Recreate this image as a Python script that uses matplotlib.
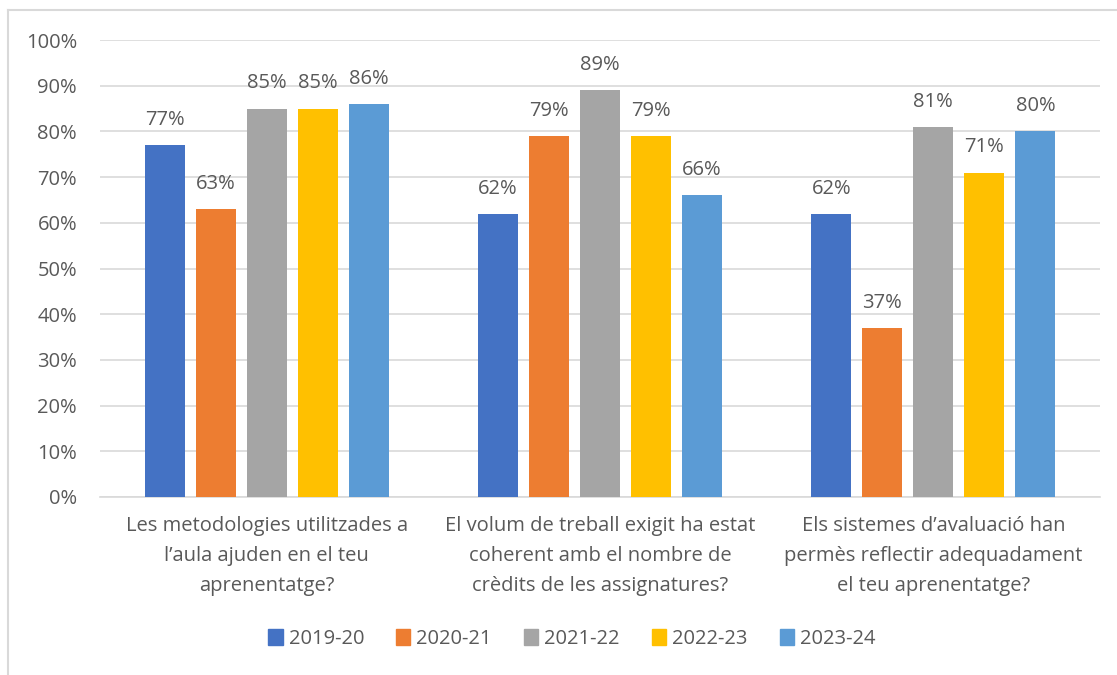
import matplotlib
matplotlib.use("Agg")
import matplotlib.pyplot as plt
import numpy as np
from matplotlib.lines import Line2D

plt.rcParams['font.family'] = ['Open Sans', 'DejaVu Sans']

categories = [
    "Les metodologies utilitzades a\nl\u2019aula ajuden en el teu\naprenentatge?",
    "El volum de treball exigit ha estat\ncoherent amb el nombre de\ncr\u00e8dits de les assignatures?",
    "Els sistemes d\u2019avaluaci\u00f3 han\nperm\u00e8s reflectir adequadament\nel teu aprenentatge?",
]
series_names = ["2019-20", "2020-21", "2021-22", "2022-23", "2023-24"]
v2019_20 = [77, 62, 62]
v2020_21 = [63, 79, 37]
v2021_22 = [85, 89, 81]
v2022_23 = [85, 79, 71]
v2023_24 = [86, 66, 80]
series_values = [v2019_20, v2020_21, v2021_22, v2022_23, v2023_24]
colors = ["#4472C4", "#ED7D31", "#A5A5A5", "#FFC000", "#5B9BD5"]
yticks = [0, 10, 20, 30, 40, 50, 60, 70, 80, 90, 100]

W, H = 1117, 675
fig = plt.figure(figsize=(W / 100, H / 100), dpi=100)
ax = fig.add_axes([100 / W, 1 - 497 / H, 1000 / W, (497 - 40) / H])

text_col = "#595959"
fs = 14.5
x = np.arange(len(categories))
bw = 0.12
step = 0.153
for i, (name, vals, c) in enumerate(zip(series_names, series_values, colors)):
    off = (i - 2) * step
    ax.bar(x + off, vals, width=bw, color=c, label=name, zorder=3)
    for xi, v in zip(x + off, vals):
        ax.text(xi, v + 3.3, f"{v}%", ha="center", va="bottom",
                fontsize=fs, color=text_col, zorder=4)

ax.set_xlim(-0.5, 2.5)
ax.set_ylim(0, 100)
ax.set_yticks(yticks)
ax.set_yticklabels([f"{t}%" for t in yticks])
ax.yaxis.grid(True, color="#D9D9D9", linewidth=1.2, zorder=0)
ax.set_axisbelow(True)
for s in ["top", "right", "left"]:
    ax.spines[s].set_visible(False)
ax.spines["bottom"].set_color("#D9D9D9")
ax.spines["bottom"].set_linewidth(1.2)
ax.tick_params(axis="y", length=0, pad=16.5, labelsize=fs, labelcolor=text_col)
ax.tick_params(axis="x", length=0, pad=14, labelsize=fs, labelcolor=text_col)
ax.set_xticks(x)
ax.set_xticklabels(categories, linespacing=1.65)

handles = [plt.Rectangle((0, 0), 1, 1, color=c) for c in colors]
fig.legend(handles, series_names, loc="center", bbox_to_anchor=(572 / W, 1 - 639 / H),
           ncol=5, frameon=False, fontsize=fs, labelcolor=text_col,
           handlelength=0.7, handleheight=0.8, handletextpad=0.3, columnspacing=1.6)

# chart border
fig.add_artist(Line2D([8 / W, 8 / W], [0, 1 - 10 / H], color="#D9D9D9", linewidth=1.5,
                      transform=fig.transFigure))
fig.add_artist(Line2D([8 / W, 1], [1 - 10 / H, 1 - 10 / H], color="#D9D9D9", linewidth=1.5,
                      transform=fig.transFigure))

fig.savefig("out.png", dpi=100)
